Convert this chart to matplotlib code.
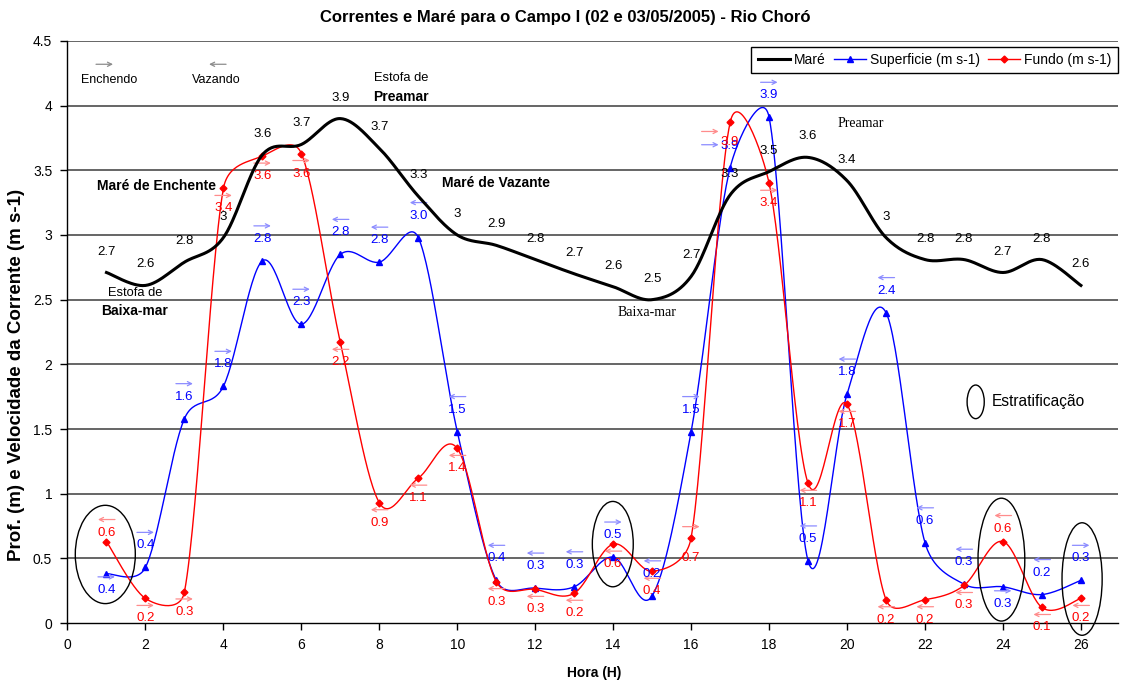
import numpy as np
import matplotlib.pyplot as plt
from matplotlib.patches import Ellipse
from matplotlib.transforms import offset_copy
from matplotlib.ticker import FormatStrFormatter

plt.rcParams['font.family'] = ['Liberation Sans', 'DejaVu Sans']

# dados
hora = list(range(1, 27))
mare = [2.71, 2.61, 2.79, 2.98, 3.62, 3.70, 3.90, 3.67, 3.30, 3.00, 2.92, 2.81, 2.70,
        2.60, 2.50, 2.68, 3.31, 3.49, 3.60, 3.42, 2.98, 2.81, 2.81, 2.71, 2.81, 2.61]
superficie = [0.38, 0.43, 1.58, 1.83, 2.80, 2.31, 2.85, 2.79, 2.98, 1.48, 0.33, 0.27, 0.28,
              0.51, 0.21, 1.48, 3.52, 3.91, 0.48, 1.77, 2.40, 0.62, 0.30, 0.28, 0.22, 0.33]
fundo = [0.63, 0.19, 0.24, 3.36, 3.61, 3.63, 2.17, 0.93, 1.12, 1.35, 0.32, 0.26, 0.23,
         0.61, 0.40, 0.66, 3.87, 3.40, 1.08, 1.69, 0.18, 0.18, 0.29, 0.63, 0.12, 0.19]

rot_mare = ["2.7", "2.6", "2.8", "3", "3.6", "3.7", "3.9", "3.7", "3.3", "3", "2.9", "2.8", "2.7",
            "2.6", "2.5", "2.7", "3.3", "3.5", "3.6", "3.4", "3", "2.8", "2.8", "2.7", "2.8", "2.6"]
rot_sup = ["0.4", "0.4", "1.6", "1.8", "2.8", "2.3", "2.8", "2.8", "3.0", "1.5", "0.4", "0.3", "0.3",
           "0.5", "0.2", "1.5", "3.9", "3.9", "0.5", "1.8", "2.4", "0.6", "0.3", "0.3", "0.2", "0.3"]
rot_fundo = ["0.6", "0.2", "0.3", "3.4", "3.6", "3.6", "2.2", "0.9", "1.1", "1.4", "0.3", "0.3", "0.2",
             "0.6", "0.4", "0.7", "3.9", "3.4", "1.1", "1.7", "0.2", "0.2", "0.3", "0.6", "0.1", "0.2"]
# sentido da corrente: 1 enchendo, -1 vazando
sentido_sup = [1, 1, 1, 1, 1, 1, -1, -1, -1, -1, -1, -1, -1, 1, -1, 1, 1, 1, -1, -1, -1, -1, -1, 1, -1, 1]
sentido_fundo = [-1, 1, 1, 1, 1, 1, -1, -1, -1, -1, -1, -1, -1, -1, -1, 1, 1, 1, -1, -1, -1, -1, -1, -1, -1, -1]

AZUL = '#0000ff'
VERMELHO = '#ff0000'


def suave(x, y, n=30, ex=39.0, ey=129.3):
    # linha suavizada tipo excel: bezier com tangente (P2-P0)/6,
    # limitada a metade do segmento (calculo em pixels)
    x = np.asarray(x, float) * ex
    y = np.asarray(y, float) * ey
    P = np.column_stack([x, y])
    P = np.vstack([P[0], P, P[-1]])
    t = np.linspace(0, 1, n, endpoint=False)[:, None]
    pts = []
    for i in range(len(x) - 1):
        p0, p1, p2, p3 = P[i], P[i + 1], P[i + 2], P[i + 3]
        d12 = np.hypot(*(p2 - p1))
        h1 = (p2 - p0) / 6
        h2 = (p3 - p1) / 6
        l1 = np.hypot(*h1)
        l2 = np.hypot(*h2)
        if l1 > d12 / 2:
            h1 = h1 * (d12 / 2) / l1
        if l2 > d12 / 2:
            h2 = h2 * (d12 / 2) / l2
        c1 = p1 + h1
        c2 = p2 - h2
        pts.append((1 - t) ** 3 * p1 + 3 * (1 - t) ** 2 * t * c1 + 3 * (1 - t) * t ** 2 * c2 + t ** 3 * p2)
    pts.append(P[-1][None, :])
    pts = np.vstack(pts)
    return pts[:, 0] / ex, pts[:, 1] / ey


fig = plt.figure(figsize=(11.23, 6.82), dpi=100)
ax = fig.add_axes([0.0601, 0.0865, 0.9354, 0.8534])


def seta(x, y, d, cor, dx=0, dy=0, meio=8.5):
    t1 = offset_copy(ax.transData, fig=fig, x=dx - d * meio, y=dy, units='dots')
    t2 = offset_copy(ax.transData, fig=fig, x=dx + d * meio, y=dy, units='dots')
    ax.annotate('', xy=(x, y), xycoords=t2, xytext=(x, y), textcoords=t1,
                arrowprops=dict(arrowstyle='->,head_length=0.3,head_width=0.15', color=cor,
                                lw=0.9, shrinkA=0, shrinkB=0), annotation_clip=False)


for yy in np.arange(0.5, 4.51, 0.5):
    ax.axhline(yy, color='#3c3c3c', lw=1.1, zorder=1)

sx, sy = suave(hora, mare)
ax.plot(sx, sy, color='black', lw=2.2, zorder=4)
sx, sy = suave(hora, superficie)
ax.plot(sx, sy, color=AZUL, lw=1.0, zorder=3)
ax.plot(hora, superficie, ls='none', marker='^', ms=5, color=AZUL, zorder=3)
sx, sy = suave(hora, fundo)
ax.plot(sx, sy, color=VERMELHO, lw=1.0, zorder=3)
ax.plot(hora, fundo, ls='none', marker='D', ms=3.5, color=VERMELHO, zorder=3)

FS = 9.5

# rotulos da mare
for x, v, r in zip(hora, mare, rot_mare):
    ax.annotate(r, (x, v), xytext=(0, 21), textcoords='offset pixels', ha='center', va='center',
                fontsize=FS, color='black', zorder=5)

# rotulos e setas - superficie
desl_sup = {0: -16, 23: -17}
seta_sup = {16: (-20, 1)}
for i, (x, v, r, d) in enumerate(zip(hora, superficie, rot_sup, sentido_sup)):
    oy = desl_sup.get(i, 22)
    ax.annotate(r, (x, v), xytext=(0, oy), textcoords='offset pixels', ha='center', va='center',
                fontsize=FS, color=AZUL, zorder=5, annotation_clip=False)
    dx, dy = seta_sup.get(i, (0, 13))
    seta(x, v, d, '#8c8cff', dx=dx, dy=oy + dy)

# rotulos e setas - fundo
desl_fundo = {0: 9, 23: 13}
seta_fundo = {15: (0, 31), 16: (-20, 11)}
for i, (x, v, r, d) in enumerate(zip(hora, fundo, rot_fundo, sentido_fundo)):
    oy = desl_fundo.get(i, -20)
    ax.annotate(r, (x, v), xytext=(0, oy), textcoords='offset pixels', ha='center', va='center',
                fontsize=FS, color=VERMELHO, zorder=5, annotation_clip=False)
    dx, dy = seta_fundo.get(i, (0, 13))
    seta(x, v, d, '#ff8c8c', dx=dx, dy=oy + dy)

# textos explicativos
seta(0.95, 4.32, 1, '#8c8c8c')
ax.text(1.08, 4.20, 'Enchendo', ha='center', va='center', fontsize=9)
seta(3.85, 4.32, -1, '#8c8c8c')
ax.text(3.82, 4.20, 'Vazando', ha='center', va='center', fontsize=9)
ax.text(8.56, 4.21, 'Estofa de', ha='center', va='center', fontsize=9.3)
ax.text(8.56, 4.07, 'Preamar', ha='center', va='center', fontsize=10, fontweight='bold')
ax.text(2.28, 3.38, 'Maré de Enchente', ha='center', va='center', fontsize=10, fontweight='bold')
ax.text(11.0, 3.40, 'Maré de Vazante', ha='center', va='center', fontsize=10, fontweight='bold')
ax.text(1.74, 2.55, 'Estofa de', ha='center', va='center', fontsize=9.3)
ax.text(1.72, 2.41, 'Baixa-mar', ha='center', va='center', fontsize=10, fontweight='bold')
ax.text(14.87, 2.40, 'Baixa-mar', ha='center', va='center', fontsize=10, family='Liberation Serif')
ax.text(20.36, 3.86, 'Preamar', ha='center', va='center', fontsize=10, family='Liberation Serif')

# elipses de estratificacao
for cx, cy, w, h in [(0.97, 0.53, 1.54, 0.76), (13.99, 0.61, 1.05, 0.66),
                     (23.96, 0.49, 1.2, 0.95), (26.03, 0.34, 1.03, 0.87), (23.3, 1.71, 0.44, 0.26)]:
    ax.add_patch(Ellipse((cx, cy), w, h, fill=False, ec='black', lw=1.0, zorder=6, clip_on=False))
ax.text(23.72, 1.71, 'Estratificação', ha='left', va='center', fontsize=11.2)

# legenda
h1, = ax.plot([], [], color='black', lw=2.2)
h2, = ax.plot([], [], color=AZUL, lw=1.0, marker='^', ms=5)
h3, = ax.plot([], [], color=VERMELHO, lw=1.0, marker='D', ms=3.5)
leg = ax.legend([h1, h2, h3], ['Maré', 'Superficie (m s-1)', 'Fundo (m s-1)'], loc='upper right',
                bbox_to_anchor=(1.0, 0.99), ncol=3, fancybox=False, edgecolor='black', framealpha=1,
                fontsize=10, handlelength=2.3, columnspacing=0.6, handletextpad=0.3,
                borderpad=0.45, borderaxespad=0)
leg.get_frame().set_linewidth(1.0)
leg.set_zorder(10)

ax.set_xlim(0, 26.95)
ax.set_ylim(0, 4.5)
ax.set_xticks(range(0, 27, 2))
ax.set_yticks(np.arange(0, 4.51, 0.5))
ax.yaxis.set_major_formatter(FormatStrFormatter('%g'))
ax.tick_params(direction='out', length=5, width=1, labelsize=10, pad=6)
for s in ['top', 'right']:
    ax.spines[s].set_visible(False)
for s in ['left', 'bottom']:
    ax.spines[s].set_linewidth(1.0)

fig.text(0.503, 0.975, 'Correntes e Maré para o Campo I (02 e 03/05/2005) - Rio Choró',
         ha='center', va='center', fontsize=12, fontweight='bold')
fig.text(0.015, 0.45, 'Prof. (m) e Velocidade da Corrente (m s-1)', rotation=90,
         ha='center', va='center', fontsize=13.5, fontweight='bold')
fig.text(0.529, 0.013, 'Hora (H)', ha='center', va='center', fontsize=10, fontweight='bold')

fig.savefig('out.png', dpi=100)
